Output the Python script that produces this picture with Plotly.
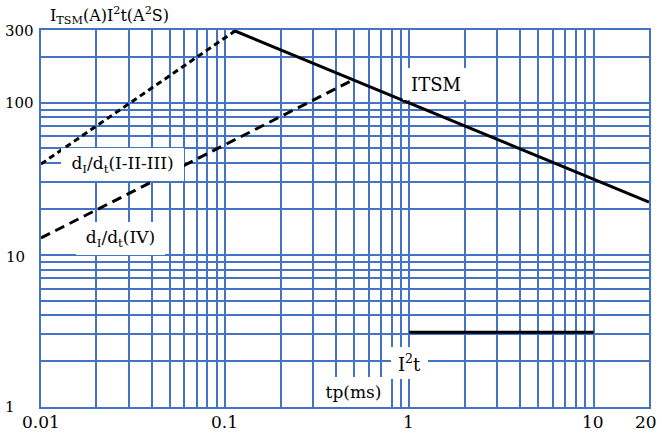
import math
import plotly.graph_objects as go

# ---- data ----
itsm_t = [0.11, 20]
itsm_v = [300, 22.2]
di_123_t = [0.01, 0.115]
di_123_v = [39.5, 300]
di_iv_t = [0.01, 0.5]
di_iv_v = [12.9, 142]
i2t_t = [1, 10]
i2t_v = [3.1, 3.1]

x_grid = [k * 10 ** e for e in (-2, -1, 0) for k in range(1, 10)] + [10, 20]
y_grid = [k * 10 ** e for e in (0, 1) for k in range(1, 10)] + [100, 200, 300]
x_tick_vals = [0.01, 0.1, 1, 10, 20]
x_tick_text = ["0.01", "0.1", "1", "10", "20"]
y_tick_vals = [300, 100, 10, 1]
y_tick_text = ["300", "100", "10", "1"]

W, H = 662, 435
L, R, T, B = 41, 651, 30, 407
GRID = "#4472C4"
FONT = "DejaVu Serif"


def px(x):
    return (x - L) / (R - L)


def py(y):
    return (B - y) / (B - T)


fig = go.Figure()
fig.add_trace(go.Scatter(x=itsm_t, y=itsm_v, mode="lines",
                         line=dict(color="black", width=3), showlegend=False))
fig.add_trace(go.Scatter(x=di_123_t, y=di_123_v, mode="lines",
                         line=dict(color="black", width=3, dash="6px,4px"), showlegend=False))
fig.add_trace(go.Scatter(x=di_iv_t, y=di_iv_v, mode="lines",
                         line=dict(color="black", width=3, dash="10px,6px"), showlegend=False))
fig.add_trace(go.Scatter(x=i2t_t, y=i2t_v, mode="lines",
                         line=dict(color="black", width=3), showlegend=False))

ann = []
# y tick labels
for v, t, xr, yc in zip(y_tick_vals, y_tick_text, [36, 36, 27, 17], [31, 103, 257, 407]):
    ann.append(dict(text=t, x=px(xr), y=py(yc), xref="paper", yref="paper",
                    xanchor="right", yanchor="middle", showarrow=False,
                    font=dict(family=FONT, size=15, color="black")))
# x tick labels
for v, t, xc in zip(x_tick_vals, x_tick_text, [41, 225, 410, 595, 648]):
    ann.append(dict(text=t, x=px(xc), y=py(422), xref="paper", yref="paper",
                    xanchor="center", yanchor="middle", showarrow=False,
                    font=dict(family=FONT, size=17, color="black")))
# title
ann.append(dict(text="I<sub>TSM</sub>(A)I<sup>2</sup>t(A<sup>2</sup>S)", x=px(48), y=py(16),
                xref="paper", yref="paper", xanchor="left", yanchor="middle", showarrow=False,
                font=dict(family=FONT, size=16, color="black")))
# curve labels with white boxes
labels = [
    ("ITSM", 437, 84, 66, 32, 18),
    ("d<sub>I</sub>/d<sub>t</sub>(I-II-III)", 122.5, 164.5, 123, 33, 17),
    ("d<sub>I</sub>/d<sub>t</sub>(IV)", 120.5, 238.5, 89, 33, 17),
    ("I<sup>2</sup>t", 410.5, 363, 37, 32, 18),
    ("tp(ms)", 354.5, 392, 73, 30, 17),
]
for t, xc, yc, w, h, fs in labels:
    ann.append(dict(text=t, x=px(xc), y=py(yc), xref="paper", yref="paper",
                    xanchor="center", yanchor="middle", showarrow=False,
                    width=w, height=h, bgcolor="white", borderpad=0, borderwidth=0,
                    font=dict(family=FONT, size=fs, color="black")))

fig.update_layout(
    width=W, height=H,
    margin=dict(l=L, r=W - R, t=T, b=H - B, pad=0),
    paper_bgcolor="white", plot_bgcolor="white",
    annotations=ann,
    font=dict(family=FONT, size=16, color="black"),
)
fig.update_xaxes(type="log", range=[math.log10(0.01), math.log10(20)],
                 tickvals=x_grid, showticklabels=False, ticks="",
                 showgrid=True, gridcolor=GRID, gridwidth=2,
                 showline=True, linecolor=GRID, linewidth=2, mirror=True, zeroline=False)
fig.update_yaxes(type="log", range=[0, math.log10(300)],
                 tickvals=y_grid, showticklabels=False, ticks="",
                 showgrid=True, gridcolor=GRID, gridwidth=2,
                 showline=True, linecolor=GRID, linewidth=2, mirror=True, zeroline=False)

fig.write_html("out.html", config={"displayModeBar": False},
               post_script="document.body.style.margin='0';document.body.style.overflow='hidden';")
